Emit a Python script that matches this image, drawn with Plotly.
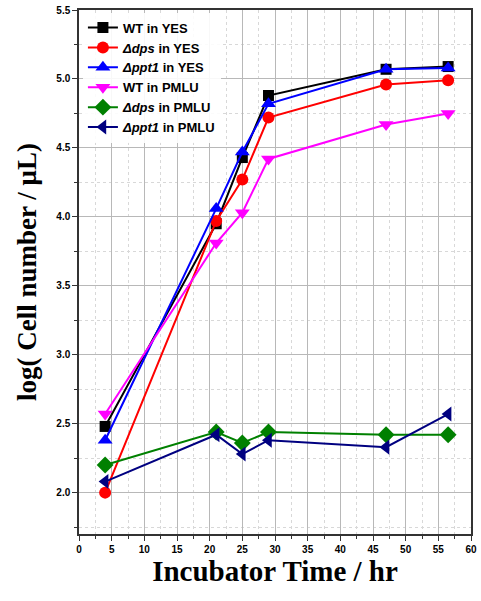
import plotly.graph_objects as go

time = [4, 21, 25, 29, 47, 56.5]
wt_yes = [2.48, 3.95, 4.43, 4.88, 5.07, 5.09]
dps_yes = [2.00, 3.97, 4.27, 4.72, 4.96, 4.99]
ppt1_yes = [2.38, 4.06, 4.47, 4.82, 5.07, 5.08]
wt_pmlu = [2.57, 3.81, 4.03, 4.42, 4.67, 4.75]
dps_pmlu = [2.20, 2.44, 2.36, 2.44, 2.42, 2.42]
ppt1_pmlu = [2.08, 2.42, 2.28, 2.38, 2.33, 2.57]

series = [
    ("WT in YES", wt_yes, "#000000", "square", 11),
    ("<i>Δdps</i> in YES", dps_yes, "#ff0000", "circle", 12),
    ("<i>Δppt1</i> in YES", ppt1_yes, "#0000ff", "triangle-up", 13),
    ("WT in PMLU", wt_pmlu, "#ff00ff", "triangle-down", 13),
    ("<i>Δdps</i> in PMLU", dps_pmlu, "#008000", "diamond", 13),
    ("<i>Δppt1</i> in PMLU", ppt1_pmlu, "#000080", "triangle-left", 13),
]

fig = go.Figure()
for name, ys, color, sym, sz in series:
    fig.add_trace(go.Scatter(
        x=time, y=ys, name=name, mode="lines+markers",
        line=dict(color=color, width=2),
        marker=dict(symbol=sym, size=sz, color=color, line=dict(width=0)),
    ))

axis_common = dict(
    showline=True, linecolor="#333333", linewidth=1.5, mirror=True,
    ticks="outside", ticklen=5, tickcolor="#333333",
    showgrid=True, gridcolor="#b8b8b8", gridwidth=1,
    zeroline=False,
    tickfont=dict(family="Liberation Sans, Arial", size=10, color="#000000", weight="bold"),
)

fig.update_xaxes(
    range=[0, 60], dtick=5, tick0=0,
    minor=dict(dtick=2.5, ticklen=3, tickcolor="#333333", showgrid=True,
               gridcolor="#d8d8d8", griddash="dot"),
    title=dict(text="Incubator Time / hr", standoff=0,
               font=dict(family="Liberation Serif, Times New Roman", size=29, color="#000000", weight="bold")),
    **axis_common,
)
fig.update_yaxes(
    range=[1.7, 5.5], dtick=0.5, tick0=2.0, tickformat=".1f",
    minor=dict(dtick=0.25, ticklen=3, tickcolor="#333333", showgrid=True,
               gridcolor="#d8d8d8", griddash="dot"),
    title=dict(text="log( Cell number / μL)", standoff=12,
               font=dict(family="Liberation Serif, Times New Roman", size=27, color="#000000", weight="bold")),
    **axis_common,
)

fig.update_layout(
    width=481, height=601,
    margin=dict(l=79, r=4, t=10, b=67),
    paper_bgcolor="white", plot_bgcolor="white",
    showlegend=True,
    legend=dict(x=0.01, y=0.995, xanchor="left", yanchor="top",
                bgcolor="rgba(255,255,255,0.9)", borderwidth=0,
                font=dict(family="Liberation Sans, Arial", size=13, color="#000000", weight="bold"),
                tracegroupgap=0, itemwidth=30),
)

fig.write_html("out.html")
